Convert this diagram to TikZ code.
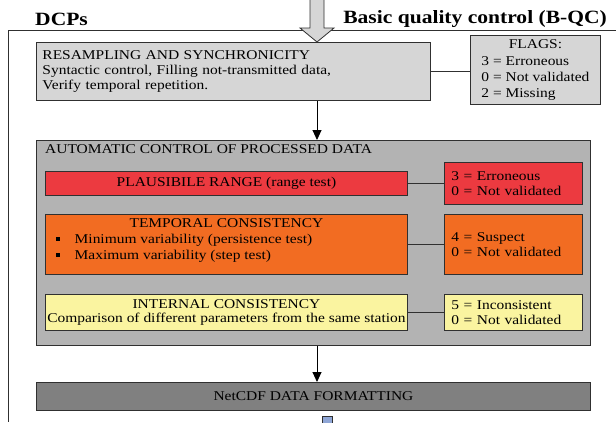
\documentclass[tikz,border=0pt]{standalone}
\usepackage{fontspec}
\setmainfont{Liberation Serif}[FakeStretch=1.15]
\usetikzlibrary{arrows.meta,calc}
\definecolor{lgray}{HTML}{D6D6D6}
\definecolor{mgray}{HTML}{B3B3B3}
\definecolor{dgray}{HTML}{808080}
\definecolor{cred}{HTML}{EC3A40}
\definecolor{corange}{HTML}{F26C22}
\definecolor{cyellow}{HTML}{FAF4A0}
\definecolor{cblue}{HTML}{8FA6D6}
\definecolor{edge}{HTML}{303030}
\newcommand{\sqbullet}{\raisebox{2.5bp}{\rule{3.5bp}{3.5bp}}}
\begin{document}
\begin{tikzpicture}[x=1bp,y=-1bp,
  font=\fontsize{13.5}{15}\selectfont,
  box/.style={draw=edge, line width=0.9bp, anchor=north west, inner sep=0pt},
  flagbox/.style={box, minimum width=138bp, text width=124bp, inner xsep=7bp, align=left},
  link/.style={draw=edge, line width=0.9bp},
  flow/.style={draw=black, line width=0.9bp, -{Triangle[length=10bp,width=9bp]}},
  head/.style={font=\bfseries\fontsize{18.8}{21}\selectfont},
]
\useasboundingbox (0,0) rectangle (616,422);
% outer frame
\draw[line width=0.9bp, draw=edge] (616,30) -| (8,422);
% headings
\node[head, anchor=base west, inner sep=0pt] (dcps) at (35,25) {DCPs};
\node[head, anchor=base east, inner sep=0pt] (bqc) at (607,23) {Basic quality control (B-QC)};
\coordinate (ax) at (317,0);
% resampling
\node[box, fill=lgray, minimum width=394bp, minimum height=58bp, text width=382bp, inner xsep=6bp, align=left] (resamp) at (36,42)
  {RESAMPLING AND SYNCHRONICITY\\Syntactic control, Filling not-transmitted data,\\Verify temporal repetition.};
\node[box, fill=lgray, minimum width=130bp, minimum height=69bp] (flags) at (470,35)
  {\def\arraystretch{1.08}\begin{tabular}{@{}l@{}}\multicolumn{1}{@{}c@{}}{FLAGS:}\\3 = Erroneous\\0 = Not validated\\2 = Missing\end{tabular}};
\draw[link] (resamp.east) -- (resamp.east -| flags.west);
% top block arrow
\draw[draw=edge, fill=lgray, line width=0.8bp] ($(resamp.north -| ax)+(-7,-42)$) -- ++(0,28) -- ++(-10,0) -- ($(resamp.north -| ax)$) -- ($(resamp.north -| ax)+(17,-14)$) -- ++(-10,0) -- ++(0,-28);
% automatic control
\node[box, fill=mgray, minimum width=554bp, minimum height=205bp] (auto) at (36,140) {};
\node[anchor=west, inner sep=0pt] (autotitle) at (45,149) {AUTOMATIC CONTROL OF PROCESSED DATA};
\draw[flow] (resamp.south -| ax) -- (auto.north -| ax);
% plausible range
\node[box, fill=cred, minimum width=362bp, minimum height=24bp] (plaus) at (45,171) {PLAUSIBILE RANGE (range test)};
\node[flagbox, fill=cred, minimum height=42bp] (fplaus) at (444,162) {3 = Erroneous\\0 = Not validated};
\draw[link] (plaus.east) -- (plaus.east -| fplaus.west);
% temporal consistency
\node[box, fill=corange, minimum width=362bp, minimum height=60bp] (temp) at (45,214) {};
\node[inner sep=0pt] (temptitle) at ($(temp.north)+(0,9)$) {TEMPORAL CONSISTENCY};
\node[anchor=west, inner sep=0pt] (b1) at (56,240) {\sqbullet\hspace{15bp}Minimum variability (persistence test)};
\node[anchor=west, inner sep=0pt] (b2) at (56,256) {\sqbullet\hspace{15bp}Maximum variability (step test)};
\node[flagbox, fill=corange, minimum height=60bp] (ftemp) at (444,214) {4 = Suspect\\0 = Not validated};
\draw[link] (temp.east) -- (temp.east -| ftemp.west);
% internal consistency
\node[box, fill=cyellow, minimum width=362bp, minimum height=36bp, align=center] (intc) at (45,294) {INTERNAL CONSISTENCY\\Comparison of different parameters from the same station};
\node[flagbox, fill=cyellow, minimum height=36bp] (fintc) at (444,294) {5 = Inconsistent\\0 = Not validated};
\draw[link] (intc.east) -- (intc.east -| fintc.west);
% netcdf
\node[box, fill=dgray, minimum width=554bp, minimum height=28bp] (netcdf) at (36,382) {NetCDF DATA FORMATTING};
\draw[flow] (auto.south -| ax) -- (netcdf.north -| ax);
% start of next block arrow
\draw[draw=edge, fill=cblue, line width=0.8bp] ($(netcdf.south -| ax)+(5,12)$) -- ++(0,-7) -- ++(10,0) -- ++(0,7);
\end{tikzpicture}
\end{document}
